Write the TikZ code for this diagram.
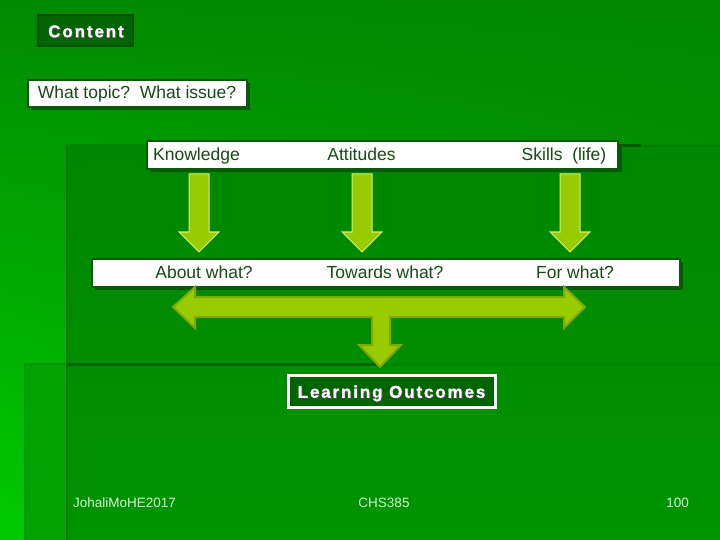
\documentclass[tikz,border=0pt]{standalone}
\usepackage{fontspec}
\usetikzlibrary{shadings}
\setmainfont{Liberation Sans}
\newfontfamily\widebold[LetterSpace=11, FakeBold=1.2]{Liberation Sans}
\definecolor{txtgreen}{HTML}{174A17}
\definecolor{boxline}{HTML}{0B5A0B}
\definecolor{shadowgreen}{HTML}{005A00}
\definecolor{darkfill}{HTML}{006400}
\definecolor{footcol}{HTML}{D2F5D2}
\definecolor{arrowgreen}{HTML}{99CC00}
\definecolor{arrowedge}{HTML}{D4EE80}
\definecolor{dbledge}{HTML}{7FA800}
\definecolor{bgul}{HTML}{008A00}
\definecolor{bgur}{HTML}{008800}
\definecolor{bgll}{HTML}{00CA00}
\definecolor{bglr}{HTML}{00A000}
\definecolor{intop}{HTML}{008600}
\definecolor{inbot}{HTML}{009400}
\definecolor{stripfill}{HTML}{00A400}
\definecolor{stripline}{HTML}{009400}
\definecolor{vline}{HTML}{007000}
\definecolor{hlineA}{HTML}{006400}
\definecolor{hlineB}{HTML}{008400}
\definecolor{tlineA}{HTML}{005A00}
\definecolor{tlineB}{HTML}{008000}
\definecolor{contentline}{HTML}{005000}
\begin{document}
\begin{tikzpicture}[x=1pt,y=-1pt,
  boxtxt/.style={text=txtgreen, font=\fontsize{17.5}{20}\selectfont, inner sep=0pt, text height=12.5pt, text depth=3.5pt},
  whitebox/.style={fill=white, draw=boxline, line width=1.2pt, inner sep=0pt},
  shadowbox/.style={fill=shadowgreen, draw=none, inner sep=0pt},
  darkbox/.style={fill=darkfill, inner sep=0pt},
  boldtxt/.style={font=\widebold\bfseries\fontsize{17}{19}\selectfont, inner sep=0pt, text height=12.5pt, text depth=0pt},
  foot/.style={text=footcol, font=\fontsize{13.5}{15}\selectfont, inner sep=0pt},
  arrowfill/.style={fill=arrowgreen, draw=arrowedge, line width=1pt, line join=miter},
  dblarrow/.style={fill=arrowgreen, draw=dbledge, line width=2pt, line join=miter}
]
\useasboundingbox (0,0) rectangle (720,540);
% background
\shade[upper left=bgul, upper right=bgur, lower left=bgll, lower right=bglr]
  (0,0) rectangle (720,540);
\shade[top color=intop, bottom color=inbot] (67,145) rectangle (720,540);
\fill[stripfill] (25,364) rectangle (67,540);
\draw[stripline, line width=1.5pt] (25,540) -- (25,364) -- (67,364);
\draw[vline, line width=2pt] (67,145) -- (67,540);
\draw[hlineA, line width=3pt] (67,364) -- (380,364);
\draw[hlineB, line width=3pt] (380,364) -- (720,364);
\draw[tlineA, line width=3pt] (618,146) -- (641,146);
\draw[tlineB, line width=2pt] (641,146) -- (720,146);

% Content
\node[darkbox, draw=contentline, line width=2pt, minimum width=95, minimum height=31] (content) at (85.5,30.5) {};
\node[boldtxt, text=black!70] at (87,32) {Content};
\node[boldtxt, text=white] (contenttxt) at (86,31) {Content};

% What topic
\node[shadowbox, minimum width=219, minimum height=27] at (140.5,96.5) {};
\node[whitebox, minimum width=219, minimum height=27] (topic) at (137.5,93.5) {};
\node[boxtxt] (topictxt) at (137,94) {What topic?\ \ What issue?};

% top band
\node[shadowbox, minimum width=471, minimum height=28] at (386,158) {};
\node[whitebox, minimum width=471, minimum height=28] (top) at (382.5,155) {};
\node[boxtxt, anchor=west] (know) at (153,156) {Knowledge};
\node[boxtxt] (att) at (361.5,156) {Attitudes};
\node[boxtxt] (skill) at (564,156) {Skills\ \ (life)};

% middle band
\node[shadowbox, minimum width=588, minimum height=28] at (389,276) {};
\node[whitebox, minimum width=588, minimum height=28] (mid) at (386,273) {};
\node[boxtxt] (about) at (204,273.5) {About what?};
\node[boxtxt] (towards) at (385,273.5) {Towards what?};
\node[boxtxt] (forw) at (575,273.5) {For what?};

% down arrows
\foreach \cx in {199,362,570}{
  \draw[arrowfill] (\cx-10,174) -- (\cx+10,174) -- (\cx+10,232) -- (\cx+20,232) -- (\cx,252)
     -- (\cx-20,232) -- (\cx-10,232) -- cycle;
}

% double arrow with stem
\draw[dblarrow] (173,307) -- (195,287) -- (195,297) -- (564,297) -- (564,287) -- (585,307)
  -- (564,328) -- (564,317) -- (390,317) -- (390,345) -- (401,345) -- (380,367) -- (359,345)
  -- (372,345) -- (372,317) -- (195,317) -- (195,328) -- cycle;

% Learning outcomes
\node[darkbox, draw=white, line width=3pt, minimum width=207, minimum height=32] (lo) at (391.5,391) {};
\node[boldtxt, text=black!70] at (392.5,392.5) {Learning Outcomes};
\node[boldtxt, text=white] (lotxt) at (391.5,391.5) {Learning Outcomes};

% footer
\node[foot, anchor=west] (f1) at (73,503) {JohaliMoHE2017};
\node[foot] (f2) at (384,503) {CHS385};
\node[foot, anchor=east] (f3) at (689,503) {100};
\end{tikzpicture}
\end{document}
